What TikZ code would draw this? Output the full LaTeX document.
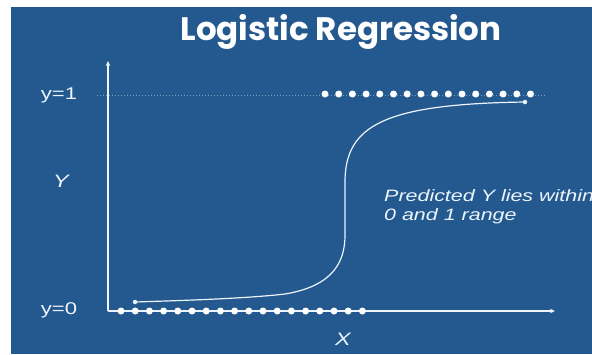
\documentclass[tikz,border=0pt]{standalone}
\usepackage{fontspec}
\setmainfont{Liberation Sans}
\newfontfamily\titlefont{Poppins}
\usetikzlibrary{arrows.meta}
\definecolor{panel}{RGB}{36,89,143}
\definecolor{ink}{RGB}{236,244,252}
\tikzset{
  axis/.style={draw=ink, line width=1.5pt, -{Stealth[length=5pt,width=4.5pt]}},
  guide/.style={draw=ink, opacity=0.45, line width=1pt, dotted},
  curve/.style={draw=ink, line width=1.2pt},
  datapt/.style={circle, fill=white, inner sep=0pt, minimum size=7pt},
  endpt/.style={circle, fill=ink, inner sep=0pt, minimum size=4.5pt},
  lbl/.style={text=ink, inner sep=0pt, font=\fontsize{17}{20}\selectfont},
  axlbl/.style={text=ink, inner sep=0pt, font=\fontsize{18}{21}\selectfont\itshape},
  note/.style={text=ink, inner sep=0pt, anchor=west, font=\fontsize{16.5}{19}\selectfont\itshape}
}
\begin{document}
\begin{tikzpicture}[x=1pt,y=-1pt]
  \useasboundingbox (0,0) rectangle (592,354);
  \fill[white] (0,0) rectangle (592,354);
  \fill[panel] (11,7) rectangle (592,354);

  % title
  \node[text=white, font=\titlefont\bfseries\fontsize{32.5}{38}\selectfont, inner sep=0pt] (title) at (341,32) {Logistic Regression};

  % axes
  \coordinate (o) at (108,311);
  \coordinate (ytop) at (108,61);
  \coordinate (xend) at (555,311);
  \draw[axis] (o) -- (ytop);
  \draw[axis] (o) -- (xend);

  % y = 1 guide
  \coordinate (g0) at (97,95);
  \coordinate (g1) at (545,95);
  \draw[guide] (g0) -- (g1);

  % axis labels
  \node[lbl] (y1) at (59,95) {\scalebox{1.3}[1]{y=1}};
  \node[lbl] (y0) at (59,310) {\scalebox{1.3}[1]{y=0}};
  \node[axlbl] (ylab) at (61,181) {\scalebox{1.3}[1]{Y}};
  \node[axlbl] (xlab) at (343,339) {\scalebox{1.3}[1]{X}};

  % observed outcomes
  \foreach \i in {0,...,17} \node[datapt] (lo\i) at (121+14.2*\i,311) {};
  \foreach \i in {0,...,15} \node[datapt] (hi\i) at (325+13.7*\i,94) {};

  % fitted sigmoid
  \node[endpt] (cs) at (135,302) {};
  \node[endpt] (ce) at (525,102) {};
  \draw[curve] (cs.center) .. controls (200,300) and (250,298) .. (285,294)
     .. controls (333,286) and (345,262) .. (345,235) -- (345,182)
     .. controls (345,125) and (385,104) .. (ce.center);

  % annotation
  \node[note] (n1) at (384,196) {\scalebox{1.3}[1]{Predicted Y lies within}};
  \node[note] (n2) at (384,216) {\scalebox{1.3}[1]{0 and 1 range}};
\end{tikzpicture}
\end{document}
